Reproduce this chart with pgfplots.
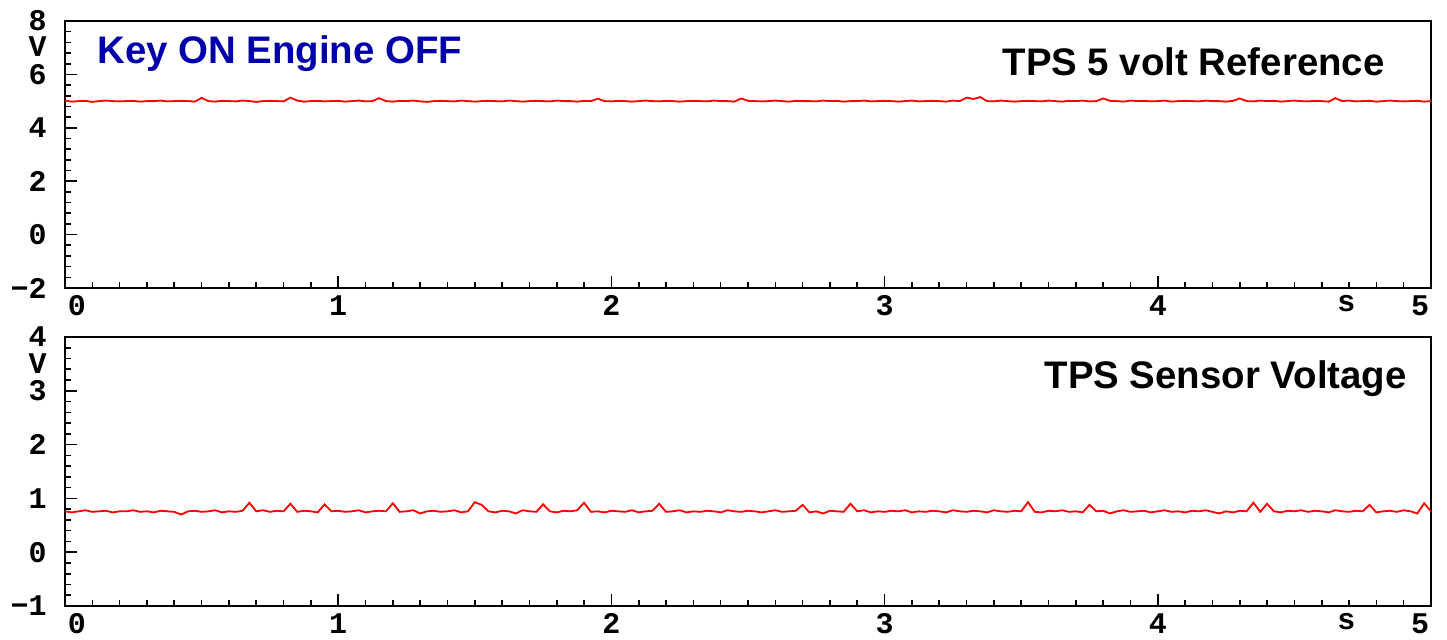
\documentclass[border=0pt]{standalone}
\usepackage{pgfplots}
\usepackage{pgfplotstable}
\pgfplotsset{compat=1.18}
\usepackage{fontspec}
\setmainfont{Liberation Sans}
\newfontfamily\tickfont{Liberation Mono}
\definecolor{keyblue}{RGB}{0,0,170}
\newcommand\tickfnt{\tickfont\bfseries\fontsize{15}{15}\selectfont}

% sampled every 0.025 s, 0 .. 5 s
\pgfplotstableread[row sep=\\, header=false]{
5.02\\4.98\\5.00\\5.01\\4.97\\5.00\\5.02\\5.00\\4.99\\5.00\\5.01\\4.98\\5.00\\5.00\\5.02\\4.99\\5.00\\5.01\\5.00\\4.98\\
5.12\\5.00\\4.98\\5.01\\5.00\\4.99\\5.02\\5.00\\4.97\\5.00\\5.01\\5.00\\4.99\\5.13\\5.02\\4.98\\5.00\\5.01\\4.99\\5.00\\
5.01\\4.98\\5.00\\5.02\\4.99\\5.00\\5.11\\5.00\\4.98\\5.01\\5.00\\5.02\\4.99\\4.97\\5.00\\5.01\\5.00\\4.99\\5.02\\5.00\\
4.98\\5.00\\5.01\\5.00\\4.99\\5.02\\5.00\\4.98\\5.00\\5.01\\5.00\\4.99\\5.02\\5.00\\5.00\\4.98\\5.01\\5.00\\5.09\\5.00\\
4.99\\5.01\\5.00\\4.98\\5.00\\5.02\\5.00\\4.99\\5.01\\5.00\\4.98\\5.00\\5.01\\5.00\\4.99\\5.02\\5.00\\5.00\\4.98\\5.10\\
5.01\\5.00\\4.99\\5.00\\5.02\\5.00\\4.98\\5.01\\5.00\\5.00\\4.99\\5.02\\5.00\\5.01\\4.98\\5.00\\5.00\\5.02\\4.99\\5.00\\
5.01\\5.00\\4.98\\5.00\\5.02\\4.99\\5.00\\5.01\\5.00\\4.98\\5.02\\5.00\\5.13\\5.08\\5.15\\5.00\\4.99\\5.02\\5.00\\4.98\\
5.00\\5.01\\5.00\\4.99\\5.02\\5.00\\4.98\\5.01\\5.00\\5.02\\4.99\\5.00\\5.10\\5.01\\5.00\\4.98\\5.02\\5.00\\5.01\\4.99\\
5.00\\5.02\\4.98\\5.00\\5.01\\5.00\\4.99\\5.02\\5.00\\5.00\\4.98\\5.01\\5.10\\5.00\\4.99\\5.02\\5.00\\5.01\\4.98\\5.00\\
5.02\\5.00\\4.99\\5.01\\5.00\\4.98\\5.11\\5.00\\5.02\\4.99\\5.00\\5.01\\4.98\\5.00\\5.02\\5.00\\4.99\\5.00\\5.01\\4.98\\
5.00\\
}\reftable

\pgfplotstableread[row sep=\\, header=false]{
0.76\\0.74\\0.76\\0.78\\0.75\\0.76\\0.77\\0.74\\0.76\\0.76\\0.78\\0.75\\0.76\\0.74\\0.77\\0.76\\0.75\\0.70\\0.76\\0.77\\
0.75\\0.76\\0.78\\0.74\\0.76\\0.75\\0.77\\0.92\\0.76\\0.78\\0.75\\0.77\\0.76\\0.90\\0.75\\0.77\\0.76\\0.74\\0.89\\0.76\\
0.77\\0.75\\0.76\\0.78\\0.74\\0.76\\0.77\\0.76\\0.91\\0.75\\0.76\\0.78\\0.72\\0.76\\0.77\\0.75\\0.76\\0.78\\0.74\\0.76\\
0.93\\0.88\\0.76\\0.74\\0.77\\0.76\\0.72\\0.78\\0.76\\0.75\\0.89\\0.76\\0.74\\0.77\\0.76\\0.78\\0.92\\0.75\\0.76\\0.74\\
0.77\\0.76\\0.75\\0.78\\0.74\\0.76\\0.77\\0.90\\0.75\\0.76\\0.78\\0.74\\0.76\\0.75\\0.77\\0.76\\0.74\\0.78\\0.76\\0.75\\
0.77\\0.76\\0.74\\0.76\\0.78\\0.75\\0.76\\0.77\\0.88\\0.74\\0.76\\0.72\\0.77\\0.76\\0.75\\0.90\\0.76\\0.78\\0.74\\0.76\\
0.75\\0.77\\0.76\\0.78\\0.74\\0.76\\0.75\\0.77\\0.76\\0.74\\0.78\\0.76\\0.75\\0.77\\0.76\\0.74\\0.78\\0.76\\0.75\\0.77\\
0.76\\0.93\\0.75\\0.74\\0.77\\0.76\\0.78\\0.75\\0.76\\0.74\\0.88\\0.76\\0.77\\0.72\\0.76\\0.78\\0.75\\0.76\\0.77\\0.74\\
0.76\\0.78\\0.75\\0.76\\0.74\\0.77\\0.76\\0.78\\0.75\\0.72\\0.76\\0.74\\0.77\\0.76\\0.92\\0.75\\0.90\\0.76\\0.74\\0.77\\
0.76\\0.78\\0.75\\0.77\\0.76\\0.74\\0.78\\0.76\\0.75\\0.77\\0.76\\0.88\\0.74\\0.76\\0.77\\0.75\\0.78\\0.76\\0.72\\0.91\\
0.76\\
}\sensortable

\pgfplotsset{
  panel/.style={
    scale only axis, width=683pt,
    xmin=0, xmax=5,
    xtick={0,1,2,3,4,5},
    xticklabels={\makebox[0pt][l]{\hspace{1.5pt}0},1,2,3,4,\makebox[0pt][r]{5\hspace{1pt}}},
    minor x tick num=9,
    tick align=inside,
    xtick pos=bottom, ytick pos=left,
    major tick length=6pt, minor tick length=3pt,
    axis line style={line width=1pt},
    every tick/.style={black, line width=0.8pt},
    ticklabel style={font=\tickfnt},
    xticklabel style={inner sep=0pt, anchor=north, yshift=-3.5pt},
    yticklabel style={inner sep=0pt, anchor=east, xshift=-9pt},
    clip=false,
  },
  trace/.style={red, line width=0.9pt, no markers},
}

\begin{document}
\begin{tikzpicture}
\useasboundingbox (0,0) rectangle (723.5pt,319.5pt);

\begin{axis}[panel, height=133.5pt, at={(32.5pt,175.5pt)}, anchor=south west,
  ymin=-2, ymax=8, ytick={-2,0,2,4,6,8},
  yticklabels={−2,0,2,4,6,8},
  minor y tick num=4]
  \addplot[trace] table[x expr=\coordindex*0.025, y index=0] {\reftable};
  \node[font=\tickfnt, inner sep=0pt, anchor=east]
    at ([xshift=-9pt,yshift=-13pt]rel axis cs:0,1) {V};
  \node[font=\tickfnt, inner sep=0pt, anchor=north]
    at ([yshift=-3.5pt]axis cs:4.69,-2) {s};
  \node[font=\bfseries\fontsize{19.2}{20}\selectfont, text=keyblue, anchor=base west, inner sep=0pt]
    at ([xshift=16pt,yshift=-21pt]rel axis cs:0,1) {Key ON Engine OFF};
  \node[font=\bfseries\fontsize{19.2}{20}\selectfont, anchor=base east, inner sep=0pt]
    at ([xshift=-23pt,yshift=-27pt]rel axis cs:1,1) {TPS 5 volt Reference};
\end{axis}

\begin{axis}[panel, height=134.5pt, at={(32.5pt,16.5pt)}, anchor=south west,
  ymin=-1, ymax=4, ytick={-1,0,1,2,3,4},
  yticklabels={−1,0,1,2,3,4},
  minor y tick num=4]
  \addplot[trace] table[x expr=\coordindex*0.025, y index=0] {\sensortable};
  \node[font=\tickfnt, inner sep=0pt, anchor=east]
    at ([xshift=-9pt,yshift=-13.5pt]rel axis cs:0,1) {V};
  \node[font=\tickfnt, inner sep=0pt, anchor=north]
    at ([yshift=-3.5pt]axis cs:4.69,-1) {s};
  \node[font=\bfseries\fontsize{19.2}{20}\selectfont, anchor=base east, inner sep=0pt]
    at ([xshift=-12pt,yshift=-25.5pt]rel axis cs:1,1) {TPS Sensor Voltage};
\end{axis}
\end{tikzpicture}
\end{document}
